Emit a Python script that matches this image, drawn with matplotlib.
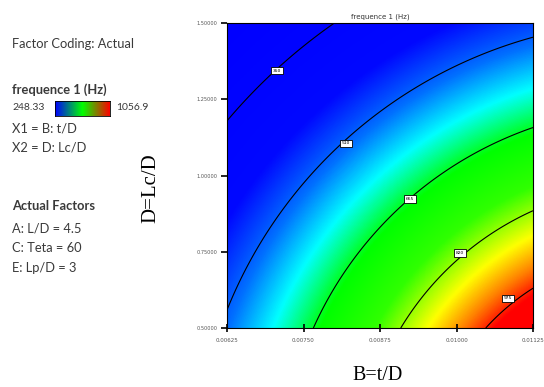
import numpy as np
import matplotlib
matplotlib.use("Agg")
import matplotlib.pyplot as plt
from matplotlib.colors import LinearSegmentedColormap

# figure size in pixels (dpi 100)
W, H = 544, 387

# response range shown in the legend
resp_min = 248.33
resp_max = 1056.9

# factor ranges (actual units) and tick labels
x_ticks = [0.00625, 0.0075, 0.00875, 0.01, 0.01125]
y_ticks = [0.5, 0.75, 1.0, 1.25, 1.5]
x_ticklabels = ["0.00625", "0.00750", "0.00875", "0.01000", "0.01125"]
y_ticklabels = ["0.50000", "0.75000", "1.00000", "1.25000", "1.50000"]

# surface model in scaled factor space (0..1): f = c0 - k * r**p, r = distance to peak
peak_uv = (1.4, -0.5)
c0 = 2079.6
k_slope = 1278.4
p_exp = 0.5

# contour levels and where their labels sit (scaled factor space)
levels = [350, 510, 665, 820, 975]
level_labels = ["350", "510", "665", "820", "975"]
label_uv = [(0.163, 0.843), (0.389, 0.606), (0.598, 0.423), (0.761, 0.246), (0.918, 0.098)]

# Design-Expert style colour ramp
ramp_pos = [0.0, 0.24, 0.34, 0.43, 0.53, 0.65, 0.77, 0.85, 0.92, 1.0]
ramp_col = ["#0000ff", "#0008ff", "#0070ff", "#00ffff", "#00ff00", "#30ff00",
            "#ffff00", "#ff8000", "#ff0000", "#ff0000"]
cmap = LinearSegmentedColormap.from_list("de", list(zip(ramp_pos, ramp_col)))
bar_cmap = LinearSegmentedColormap.from_list("bar", ["#0000ff", "#00ff00", "#ff0000"])

legend_lines = [
    ("Factor Coding: Actual", 44, "normal"),
    ("frequence 1 (Hz)", 90, "bold"),
    ("X1 = B: t/D", 129, "normal"),
    ("X2 = D: Lc/D", 148, "normal"),
    ("Actual Factors", 206, "bold"),
    ("A: L/D = 4.5", 228, "normal"),
    ("C: Teta = 60", 248, "normal"),
    ("E: Lp/D = 3", 268, "normal"),
]


def response(u, v):
    r = np.sqrt((u - peak_uv[0]) ** 2 + (v - peak_uv[1]) ** 2)
    return c0 - k_slope * r ** p_exp


fig = plt.figure(figsize=(W / 100, H / 100), dpi=100)

# main plot area, placed in pixel terms
left, right, top, bottom = 227, 533, 23, 328
ax = fig.add_axes([left / W, 1 - bottom / H, (right - left) / W, (bottom - top) / H])

x0, x1 = x_ticks[0], x_ticks[-1]
y0, y1 = y_ticks[0], y_ticks[-1]
xs = np.linspace(x0, x1, 400)
ys = np.linspace(y0, y1, 400)
X, Y = np.meshgrid(xs, ys)
Z = response((X - x0) / (x1 - x0), (Y - y0) / (y1 - y0))

ax.imshow(Z, origin="lower", extent=[x0, x1, y0, y1], aspect="auto",
          cmap=cmap, vmin=resp_min, vmax=resp_max, interpolation="bilinear")
ax.contour(X, Y, Z, levels=levels, colors="black", linewidths=0.8)

for lab, (u, v) in zip(level_labels, label_uv):
    ax.text(x0 + u * (x1 - x0), y0 + v * (y1 - y0), lab, fontsize=3.2,
            ha="center", va="center", color="black",
            bbox=dict(boxstyle="square,pad=0.35", fc="white", ec="black", lw=0.6))

ax.set_xlim(x0, x1)
ax.set_ylim(y0, y1)
ax.set_xticks(x_ticks)
ax.set_yticks(y_ticks)
ax.set_xticklabels(x_ticklabels)
ax.set_yticklabels(y_ticklabels)
ax.tick_params(axis="x", direction="inout", length=6, width=1.2, labelsize=4,
               labelcolor="#555555", pad=4)
ax.tick_params(axis="y", direction="out", length=4, width=1.2, labelsize=3.6,
               labelcolor="#555555", pad=3)
for sp in ax.spines.values():
    sp.set_linewidth(0.8)
ax.set_title("frequence 1 (Hz)", fontsize=5, pad=3, color="#333333")

fig.text(378 / W, 1 - 376 / H, "B=t/D", family="Liberation Serif", fontsize=14.5,
         ha="center", va="center")
fig.text(151 / W, 1 - 188 / H, "D=Lc/D", family="Liberation Serif", fontsize=15,
         ha="center", va="center", rotation=90)

# legend block on the left
for txt, ypix, weight in legend_lines:
    fig.text(12 / W, 1 - ypix / H, txt, family="Lato", fontsize=9.3, weight=weight,
             color="#3a3a3a", ha="left", va="center")

fig.text(12 / W, 1 - 108 / H, "248.33", family="Lato", fontsize=7.5, color="#3a3a3a",
         ha="left", va="center")
fig.text(116 / W, 1 - 108 / H, "1056.9", family="Lato", fontsize=7.5, color="#3a3a3a",
         ha="left", va="center")
cax = fig.add_axes([55 / W, 1 - 116 / H, 55 / W, 15 / H])
cax.imshow(np.linspace(0, 1, 256)[None, :], aspect="auto", cmap=bar_cmap)
cax.set_xticks([])
cax.set_yticks([])
for sp in cax.spines.values():
    sp.set_linewidth(0.6)

fig.savefig("out.png", dpi=100)
